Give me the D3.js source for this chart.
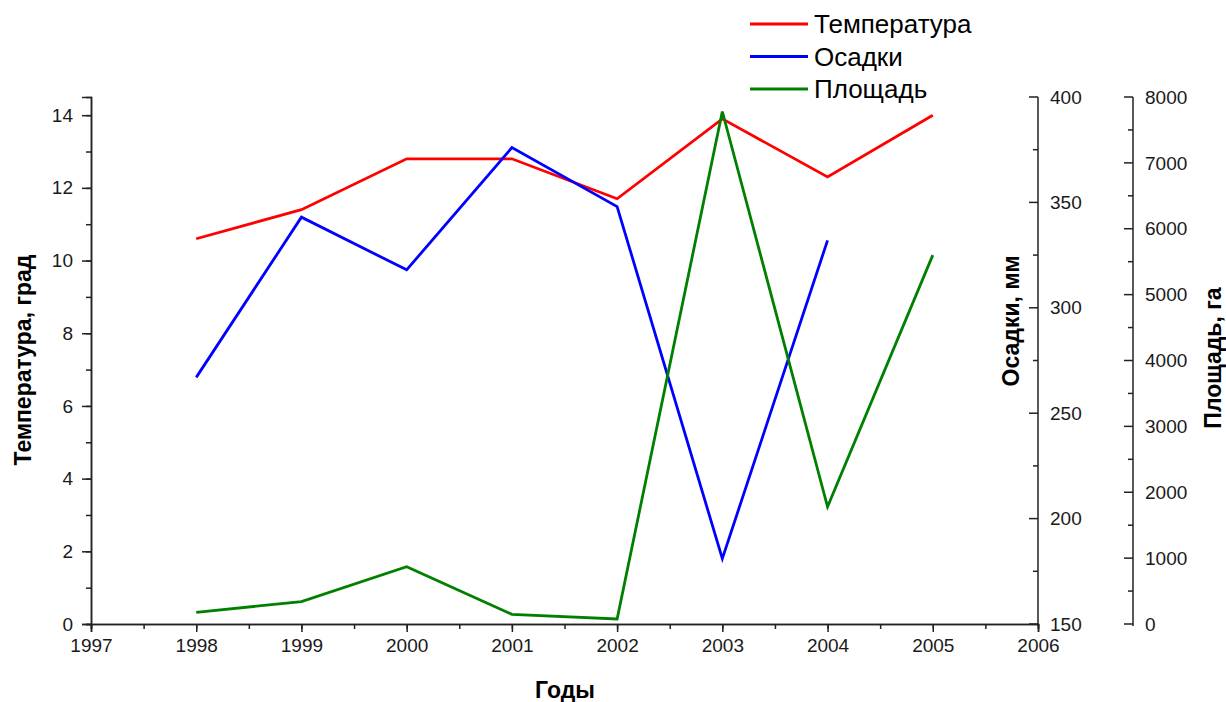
<!DOCTYPE html>
<html>
<head>
<meta charset="utf-8">
<script src="https://cdn.jsdelivr.net/npm/d3@7"></script>
<style>
  html, body { margin: 0; padding: 0; background: #fff; }
  svg { display: block; font-family: "Liberation Sans", Arial, sans-serif; }
</style>
</head>
<body>
<svg id="chart" width="1226" height="702"></svg>
<script>
// Years and yearly observations
const years = [1998, 1999, 2000, 2001, 2002, 2003, 2004, 2005];
const temperature = [10.6, 11.4, 12.8, 12.8, 11.7, 13.9, 12.3, 14.0];      // град
const precipitation = [267, 343, 318, 376, 348, 181, 332, null];           // мм
const area = [178, 339, 870, 147, 76, 7780, 1780, 5600];                   // га

const xTicks = [1997, 1998, 1999, 2000, 2001, 2002, 2003, 2004, 2005, 2006];
const tempTicks = [0, 2, 4, 6, 8, 10, 12, 14];
const precTicks = [150, 200, 250, 300, 350, 400];
const areaTicks = [0, 1000, 2000, 3000, 4000, 5000, 6000, 7000, 8000];

const seriesNames = ["Температура", "Осадки", "Площадь"];
const seriesColors = ["#ff0000", "#0000ff", "#008000"];

const svg = d3.select("#chart");
const plotLeft = 91, plotRight = 1038, plotTop = 97, plotBottom = 624;
const axis2X = 1133;
const axisColor = "#222";
const tickFont = "19px";

const x = d3.scaleLinear().domain([1997, 2006]).range([plotLeft, plotRight]);
const yT = d3.scaleLinear().domain([0, 14.5]).range([plotBottom, plotTop]);
const yP = d3.scaleLinear().domain([150, 400]).range([plotBottom, plotTop]);
const yA = d3.scaleLinear().domain([0, 8000]).range([plotBottom, plotTop]);

function styleAxis(g) {
  g.selectAll("path, line").attr("stroke", axisColor).attr("stroke-width", 1.5);
  g.selectAll("text").attr("fill", "#1a1a1a").style("font-size", tickFont);
}

// minor ticks between the labelled ones
function minor(scale, step) {
  const [a, b] = scale.domain();
  return d3.range(a, b + step / 2, step);
}

// bottom axis: years
const gx = svg.append("g").attr("transform", `translate(0,${plotBottom})`);
gx.append("g").call(d3.axisBottom(x).tickValues(minor(x, 0.5)).tickSize(5).tickFormat(""))
  .call(styleAxis);
gx.append("g").call(d3.axisBottom(x).tickValues(xTicks).tickSize(8).tickPadding(7).tickFormat(d3.format("d")))
  .call(styleAxis);

// left axis: temperature
const gl = svg.append("g").attr("transform", `translate(${plotLeft},0)`);
gl.append("g").call(d3.axisLeft(yT).tickValues(d3.range(0, 14.5, 1)).tickSize(5).tickFormat(""))
  .call(styleAxis);
gl.append("g").call(d3.axisLeft(yT).tickValues(tempTicks).tickSize(9).tickPadding(9))
  .call(styleAxis);

// right-hand axes: ticks drawn inward, labels outside
function rightAxis(xPos, scale, majors, minors) {
  const g = svg.append("g").attr("transform", `translate(${xPos},0)`);
  g.append("line").attr("x1", 0).attr("x2", 0)
    .attr("y1", scale.range()[1]).attr("y2", scale.range()[0] + 2)
    .attr("stroke", axisColor).attr("stroke-width", 1.5);
  g.selectAll("line.minor").data(minors).join("line")
    .attr("class", "minor")
    .attr("x1", -5).attr("x2", 0)
    .attr("y1", d => scale(d)).attr("y2", d => scale(d))
    .attr("stroke", axisColor).attr("stroke-width", 1.5);
  g.selectAll("line.major").data(majors).join("line")
    .attr("class", "major")
    .attr("x1", -9).attr("x2", 0)
    .attr("y1", d => scale(d)).attr("y2", d => scale(d))
    .attr("stroke", axisColor).attr("stroke-width", 1.5);
  g.selectAll("text").data(majors).join("text")
    .attr("x", 12).attr("y", d => scale(d)).attr("dy", "0.35em")
    .attr("fill", "#1a1a1a").style("font-size", tickFont)
    .text(d => d);
  return g;
}
rightAxis(plotRight, yP, precTicks, d3.range(175, 400, 50));
rightAxis(axis2X, yA, areaTicks, d3.range(500, 8000, 1000));

// axis titles
const titleStyle = s => s.attr("font-weight", "bold").style("font-size", "23px").attr("fill", "#000")
  .attr("text-anchor", "middle");
svg.append("text").attr("transform", `translate(31,360) rotate(-90)`).call(titleStyle).text("Температура, град");
svg.append("text").attr("transform", `translate(1019,321) rotate(-90)`).call(titleStyle).text("Осадки, мм");
svg.append("text").attr("transform", `translate(1221,358) rotate(-90)`).call(titleStyle).text("Площадь, га");
svg.append("text").attr("x", 565).attr("y", 698).call(titleStyle).text("Годы");

// series lines
const series = [
  { values: temperature, y: yT },
  { values: precipitation, y: yP },
  { values: area, y: yA }
];
series.forEach((s, i) => {
  const line = d3.line()
    .defined(d => d[1] != null)
    .x(d => x(d[0]))
    .y(d => s.y(d[1]));
  svg.append("path")
    .datum(years.map((yr, j) => [yr, s.values[j]]))
    .attr("d", line)
    .attr("fill", "none")
    .attr("stroke", seriesColors[i])
    .attr("stroke-width", 2.8)
    .attr("stroke-linejoin", "miter");
});

// legend
const legend = svg.append("g").attr("transform", "translate(750,24)");
seriesNames.forEach((name, i) => {
  const row = legend.append("g").attr("transform", `translate(0,${i * 32.5})`);
  row.append("line").attr("x1", 0).attr("x2", 58).attr("y1", 0).attr("y2", 0)
    .attr("stroke", seriesColors[i]).attr("stroke-width", 2.8);
  row.append("text").attr("x", 64).attr("y", 0).attr("dy", "0.35em")
    .style("font-size", "26px").attr("fill", "#000").text(name);
});
</script>
</body>
</html>
